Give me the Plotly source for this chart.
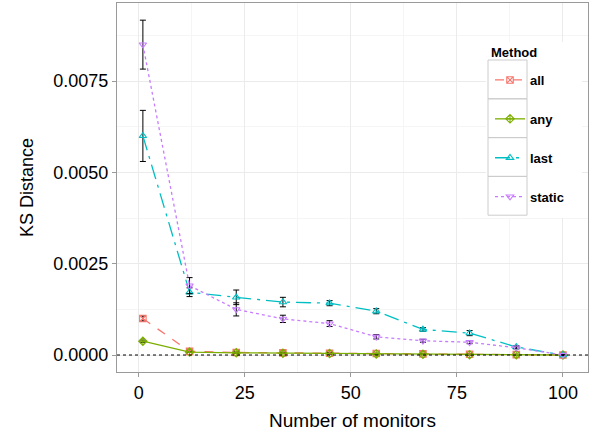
import plotly.graph_objects as go

monitors = [1, 12, 23, 34, 45, 56, 67, 78, 89, 100]

ks_all = [0.00100, 0.00010, 0.00007, 0.00006, 0.00005, 0.00004, 0.00003, 0.00002, 0.00001, 0.0]
err_all = [0.00007, 0.00002, 0.00002, 0.00002, 0.00002, 0.00001, 0.00001, 0.00001, 0.00001, 0.0]

ks_any = [0.00038, 0.00008, 0.00006, 0.00005, 0.00004, 0.00003, 0.00002, 0.00001, 0.00001, 0.0]
err_any = [0.00003, 0.00001, 0.00001, 0.00001, 0.00001, 0.00001, 0.00001, 0.00001, 0.0, 0.0]

ks_last = [0.00600, 0.00172, 0.00158, 0.00145, 0.00142, 0.00120, 0.00070, 0.00060, 0.00022, 0.0]
err_last = [0.00070, 0.00012, 0.00020, 0.00013, 0.00007, 0.00007, 0.00005, 0.00007, 0.00004, 0.0]

ks_static = [0.00850, 0.00190, 0.00125, 0.00099, 0.00086, 0.00050, 0.00039, 0.00035, 0.00020, 0.0]
err_static = [0.00067, 0.00022, 0.00018, 0.00010, 0.00008, 0.00006, 0.00004, 0.00004, 0.00003, 0.0]

methods = ["all", "any", "last", "static"]
colors = ["#F8766D", "#7CAE00", "#00BFC4", "#C77CFF"]
dashes = ["dash", "solid", "longdashdot", "dot"]
symbols = ["square-x-open", "diamond-cross-open", "triangle-up-open", "triangle-down-open"]
values = [ks_all, ks_any, ks_last, ks_static]
errors = [err_all, err_any, err_last, err_static]

y_ticks = [0.0, 0.0025, 0.005, 0.0075]
x_ticks = [0, 25, 50, 75, 100]

FONT = "Liberation Sans, Arial, sans-serif"

fig = go.Figure()
for m, c, d, s, v, e in zip(methods, colors, dashes, symbols, values, errors):
    fig.add_trace(go.Scatter(
        x=monitors, y=v, name=m, legendgroup=m, mode="lines+markers",
        line=dict(color=c, dash=d, width=1.3),
        marker=dict(symbol=s, size=6.5, color=c, line=dict(width=1.1, color=c)),
        error_y=dict(type="data", array=e, visible=True, color="black",
                     thickness=1, width=3),
    ))

L, R, T, B = 117, 7, 3, 65
W, H = 595, 437
pw = W - L - R
ph = H - T - B

def px_x(p):
    return (p - L) / pw

def px_y(p):
    return 1 - (p - T) / ph

shapes = [
    dict(type="line", xref="paper", yref="y", x0=0, x1=1, y0=0, y1=0,
         line=dict(color="black", width=1, dash="dot"), layer="above"),
    dict(type="rect", xref="paper", yref="paper",
         x0=px_x(486), x1=px_x(582), y0=px_y(218), y1=px_y(42),
         fillcolor="white", line=dict(width=0), layer="above"),
]
key_top = 60
key_h = 38.8
for i in range(4):
    shapes.append(dict(type="rect", xref="paper", yref="paper",
                       x0=px_x(488), x1=px_x(527),
                       y0=px_y(key_top + (i + 1) * key_h), y1=px_y(key_top + i * key_h),
                       line=dict(color="#CCCCCC", width=1), fillcolor="rgba(0,0,0,0)",
                       layer="above"))

annotations = [
    dict(text="<b>Method</b>", xref="paper", yref="paper", x=px_x(489), y=px_y(53),
         xanchor="left", yanchor="middle", showarrow=False,
         font=dict(size=13, family=FONT, color="black")),
]

fig.update_layout(
    width=W, height=H,
    margin=dict(l=L, r=R, t=T, b=B),
    paper_bgcolor="white", plot_bgcolor="white",
    font=dict(family=FONT, color="black"),
    shapes=shapes,
    annotations=annotations,
    showlegend=True,
    legend=dict(
        x=px_x(490), y=px_y(65), xanchor="left", yanchor="top",
        bgcolor="rgba(0,0,0,0)",
        font=dict(size=13, family=FONT, weight="bold"),
        tracegroupgap=19,
        itemwidth=30,
    ),
    xaxis=dict(
        range=[-5.1, 105.9], tickvals=x_ticks, ticktext=[str(t) for t in x_ticks],
        automargin=False,
        showgrid=True, gridcolor="#EBEBEB", gridwidth=1.2,
        minor=dict(tickvals=[12.5, 37.5, 62.5, 87.5], showgrid=True,
                   gridcolor="#F5F5F5", gridwidth=0.8),
        showline=True, mirror=True, linecolor="#9A9A9A", linewidth=1,
        ticks="outside", ticklen=4, tickcolor="#9A9A9A",
        tickfont=dict(size=18, color="black"),
        title=dict(text="Number of monitors", font=dict(size=19), standoff=12),
        zeroline=False,
    ),
    yaxis=dict(
        range=[-0.000465, 0.00964], tickvals=y_ticks, tickformat=".4f",
        automargin=False,
        showgrid=True, gridcolor="#EBEBEB", gridwidth=1.2,
        minor=dict(tickvals=[0.00125, 0.00375, 0.00625, 0.00875], showgrid=True,
                   gridcolor="#F5F5F5", gridwidth=0.8),
        showline=True, mirror=True, linecolor="#9A9A9A", linewidth=1,
        ticks="outside", ticklen=4, tickcolor="#9A9A9A",
        tickfont=dict(size=18, color="black"),
        title=dict(text="KS Distance", font=dict(size=18), standoff=15),
        zeroline=False,
    ),
)

fig.write_html("out.html", config={"displayModeBar": False},
               post_script="document.body.style.margin='0px';")
